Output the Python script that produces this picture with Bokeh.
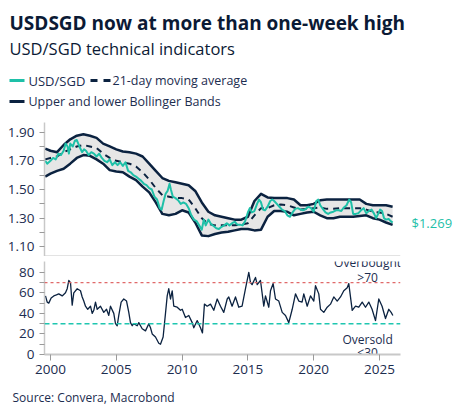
from bokeh.plotting import figure
from bokeh.layouts import column, row
from bokeh.models import Range1d, FixedTicker, Span, LinearAxis, NumeralTickFormatter
from bokeh.core.properties import value
from bokeh.embed import file_html
from bokeh.resources import INLINE

FONT = "Open Sans"
NAVY = "#0b2240"
TEAL = "#1ec0a8"
FILL = "#e6e6e6"
AXIS = "#c8c8c8"
TEXT = "#1c2d4f"

# ---- USD/SGD spot (decimal years) ----
usd_x = [1999.6, 1999.75, 2000.0, 2000.2, 2000.4, 2000.6, 2000.8, 2001.0, 2001.15, 2001.3,
         2001.4, 2001.5, 2001.7, 2001.85, 2002.0, 2002.2, 2002.4, 2002.55, 2002.7, 2002.9,
         2003.1, 2003.3, 2003.5, 2003.7, 2003.9, 2004.1, 2004.3, 2004.5, 2004.7, 2004.9,
         2005.1, 2005.3, 2005.5, 2005.7, 2005.9, 2006.1, 2006.3, 2006.5, 2006.7, 2006.9,
         2007.1, 2007.3, 2007.5, 2007.7, 2007.9, 2008.1, 2008.3, 2008.45, 2008.6, 2008.75,
         2008.9, 2009.05, 2009.15, 2009.3, 2009.5, 2009.7, 2009.9, 2010.1, 2010.3, 2010.5,
         2010.7, 2010.9, 2011.1, 2011.3, 2011.5, 2011.65, 2011.8, 2012.0, 2012.2, 2012.4,
         2012.6, 2012.8, 2013.0, 2013.2, 2013.4, 2013.6, 2013.8, 2014.0, 2014.2, 2014.4,
         2014.6, 2014.8, 2015.0, 2015.15, 2015.3, 2015.5, 2015.7, 2015.85, 2016.0, 2016.15,
         2016.3, 2016.5, 2016.7, 2016.85, 2017.0, 2017.2, 2017.4, 2017.6, 2017.8, 2018.0,
         2018.2, 2018.4, 2018.6, 2018.8, 2019.0, 2019.2, 2019.4, 2019.6, 2019.8, 2020.0,
         2020.2, 2020.35, 2020.5, 2020.7, 2020.9, 2021.1, 2021.3, 2021.5, 2021.7, 2021.9,
         2022.1, 2022.3, 2022.5, 2022.7, 2022.85, 2023.0, 2023.2, 2023.4, 2023.6, 2023.8,
         2024.0, 2024.2, 2024.4, 2024.6, 2024.75, 2024.9, 2025.05, 2025.2, 2025.35, 2025.5,
         2025.7, 2025.85, 2026.0]
usd_val = [1.70, 1.68, 1.70, 1.72, 1.71, 1.75, 1.74, 1.77, 1.82, 1.80,
           1.75, 1.82, 1.80, 1.84, 1.845, 1.80, 1.76, 1.78, 1.77, 1.74,
           1.76, 1.75, 1.73, 1.75, 1.72, 1.70, 1.69, 1.71, 1.67, 1.69,
           1.67, 1.69, 1.665, 1.69, 1.63, 1.62, 1.60, 1.59, 1.575, 1.56,
           1.54, 1.53, 1.51, 1.50, 1.45, 1.43, 1.37, 1.36, 1.42, 1.47,
           1.49, 1.54, 1.50, 1.45, 1.44, 1.425, 1.40, 1.41, 1.40, 1.37,
           1.32, 1.29, 1.28, 1.25, 1.22, 1.29, 1.25, 1.29, 1.26, 1.245,
           1.23, 1.225, 1.24, 1.25, 1.265, 1.25, 1.265, 1.275, 1.255, 1.255,
           1.25, 1.28, 1.34, 1.37, 1.34, 1.35, 1.40, 1.43, 1.41, 1.36,
           1.355, 1.38, 1.42, 1.43, 1.42, 1.40, 1.38, 1.36, 1.35, 1.32,
           1.31, 1.34, 1.365, 1.37, 1.36, 1.355, 1.365, 1.38, 1.37, 1.345,
           1.42, 1.43, 1.39, 1.365, 1.34, 1.33, 1.34, 1.345, 1.355, 1.355,
           1.35, 1.375, 1.39, 1.43, 1.41, 1.33, 1.33, 1.335, 1.355, 1.37,
           1.335, 1.35, 1.36, 1.33, 1.30, 1.33, 1.36, 1.35, 1.30, 1.29,
           1.295, 1.28, 1.269]

# ---- 21-day moving average and Bollinger Bands ----
band_x = [1999.6, 2000.0, 2000.5, 2001.0, 2001.5, 2002.0, 2002.5, 2003.0, 2003.5, 2004.0,
          2004.5, 2005.0, 2005.5, 2006.0, 2006.5, 2007.0, 2007.5, 2008.0, 2008.5, 2009.0,
          2009.5, 2010.0, 2010.5, 2011.0, 2011.5, 2012.0, 2012.5, 2013.0, 2013.5, 2014.0,
          2014.5, 2015.0, 2015.5, 2016.0, 2016.5, 2017.0, 2017.5, 2018.0, 2018.5, 2019.0,
          2019.5, 2020.0, 2020.5, 2021.0, 2021.5, 2022.0, 2022.5, 2023.0, 2023.5, 2024.0,
          2024.5, 2025.0, 2025.5, 2026.0]
band_upper = [1.785, 1.77, 1.76, 1.81, 1.85, 1.875, 1.885, 1.875, 1.86, 1.82,
              1.80, 1.78, 1.765, 1.76, 1.75, 1.73, 1.68, 1.63, 1.58, 1.56,
              1.55, 1.54, 1.53, 1.49, 1.41, 1.345, 1.32, 1.31, 1.30, 1.29,
              1.29, 1.31, 1.42, 1.47, 1.445, 1.44, 1.44, 1.44, 1.43, 1.39,
              1.39, 1.40, 1.425, 1.43, 1.43, 1.43, 1.43, 1.43, 1.43, 1.40,
              1.39, 1.39, 1.39, 1.38]
band_lower = [1.59, 1.61, 1.63, 1.645, 1.68, 1.72, 1.74, 1.735, 1.71, 1.68,
              1.635, 1.625, 1.62, 1.59, 1.565, 1.52, 1.48, 1.41, 1.33, 1.32,
              1.33, 1.355, 1.34, 1.27, 1.18, 1.175, 1.19, 1.20, 1.205, 1.215,
              1.225, 1.225, 1.215, 1.22, 1.31, 1.35, 1.35, 1.345, 1.32, 1.33,
              1.34, 1.345, 1.32, 1.30, 1.30, 1.31, 1.31, 1.31, 1.315, 1.32,
              1.30, 1.29, 1.27, 1.253]
band_ma = [1.71, 1.72, 1.73, 1.76, 1.78, 1.80, 1.81, 1.80, 1.79, 1.75,
           1.72, 1.70, 1.69, 1.68, 1.66, 1.62, 1.57, 1.51, 1.46, 1.45,
           1.44, 1.44, 1.43, 1.37, 1.30, 1.26, 1.25, 1.25, 1.25, 1.25,
           1.255, 1.265, 1.32, 1.37, 1.37, 1.39, 1.395, 1.39, 1.375, 1.36,
           1.365, 1.37, 1.375, 1.365, 1.365, 1.37, 1.37, 1.37, 1.37, 1.36,
           1.345, 1.34, 1.33, 1.31]

# ---- RSI ----
rsi_x = [1999.62, 1999.75, 1999.87, 2000.05, 2000.25, 2000.45, 2000.63, 2000.89, 2001.14, 2001.27,
         2001.39, 2001.52, 2001.65, 2001.77, 2002.03, 2002.28, 2002.41, 2002.53, 2002.66, 2002.83,
         2003.04, 2003.17, 2003.29, 2003.42, 2003.55, 2003.80, 2004.05, 2004.26, 2004.43, 2004.56,
         2004.81, 2004.94, 2005.07, 2005.19, 2005.37, 2005.57, 2005.78, 2005.95, 2006.08, 2006.21,
         2006.33, 2006.59, 2006.71, 2006.97, 2007.22, 2007.47, 2007.60, 2007.73, 2007.98, 2008.23,
         2008.36, 2008.56, 2008.74, 2008.87, 2008.99, 2009.12, 2009.25, 2009.37, 2009.63, 2009.88,
         2010.01, 2010.26, 2010.51, 2010.77, 2010.89, 2011.15, 2011.40, 2011.55, 2011.70, 2011.91,
         2012.16, 2012.41, 2012.67, 2012.92, 2013.17, 2013.43, 2013.55, 2013.80, 2014.06, 2014.31,
         2014.56, 2014.82, 2015.07, 2015.20, 2015.32, 2015.58, 2015.71, 2015.96, 2016.21, 2016.34,
         2016.59, 2016.72, 2016.92, 2017.10, 2017.35, 2017.61, 2017.86, 2018.11, 2018.37, 2018.62,
         2018.87, 2019.12, 2019.25, 2019.51, 2019.76, 2020.01, 2020.14, 2020.39, 2020.52, 2020.77,
         2021.03, 2021.28, 2021.53, 2021.79, 2022.04, 2022.29, 2022.55, 2022.67, 2022.93, 2023.18,
         2023.43, 2023.69, 2023.94, 2024.19, 2024.44, 2024.70, 2024.95, 2025.20, 2025.46, 2025.71,
         2025.89, 2026.02]
rsi_val = [57, 51, 50, 55, 57, 58, 59, 57, 60, 64,
           72, 70, 48, 60, 64, 62, 56, 52, 47, 44,
           47, 40, 43, 51, 44, 47, 41, 44, 38, 47,
           40, 30, 28, 38, 51, 54, 52, 41, 31, 28,
           30, 28, 31, 25, 23, 30, 26, 20, 17, 11,
           10, 17, 40, 57, 64, 54, 62, 47, 46, 43,
           44, 36, 38, 31, 26, 33, 26, 21, 49, 47,
           49, 43, 54, 47, 41, 54, 56, 47, 56, 46,
           47, 64, 80, 70, 68, 75, 68, 72, 47, 57,
           46, 62, 69, 54, 52, 41, 38, 31, 44, 59,
           52, 51, 59, 47, 57, 52, 67, 59, 44, 41,
           46, 49, 56, 52, 56, 62, 65, 69, 43, 47,
           46, 51, 46, 51, 44, 33, 54, 47, 35, 44,
           41, 38]

OVERBOUGHT = 70
OVERSOLD = 30

year_ticks = [2000, 2005, 2010, 2015, 2020, 2025]
price_ticks = [1.10, 1.30, 1.50, 1.70, 1.90]
price_minor = [1.20, 1.40, 1.60, 1.80]
rsi_ticks = [0, 20, 40, 60, 80]
rsi_minor = [10, 30, 50, 70]

W = 455
x_range = Range1d(1999.545, 2026.6)


def blank(height):
    p = figure(width=W, height=height, x_range=Range1d(0, W), y_range=Range1d(height, 0),
               min_border=0, toolbar_location=None, output_backend="svg")
    p.axis.visible = False
    p.grid.visible = False
    p.outline_line_color = None
    return p


def style_yaxis(p, ticks, minor, fmt):
    ax = p.yaxis[0]
    ax.ticker = FixedTicker(ticks=ticks, minor_ticks=minor)
    ax.formatter = NumeralTickFormatter(format=fmt)
    ax.axis_line_color = AXIS
    ax.axis_line_width = 1.5
    ax.major_tick_line_color = "#9a9a9a"
    ax.minor_tick_line_color = "#9a9a9a"
    ax.major_tick_in = 0
    ax.minor_tick_in = 0
    ax.major_tick_out = 5
    ax.minor_tick_out = 5
    ax.major_label_standoff = 5
    ax.major_label_text_font = FONT
    ax.major_label_text_font_size = "13.5px"
    ax.major_label_text_color = TEXT


# ---- header: title, subtitle and legend ----
head = blank(112)
head.text(x=[9], y=[22], text=["USDSGD now at more than one-week high"],
          text_font=value(FONT), text_font_style="bold", text_font_size="19px",
          text_color="#0b1a35", text_baseline="middle")
head.text(x=[9], y=[48], text=["USD/SGD technical indicators"],
          text_font=value(FONT), text_font_size="16.5px", text_color="#0b1a35",
          text_baseline="middle")
head.line(x=[9, 24], y=[80, 80], line_color=TEAL, line_width=3)
head.text(x=[28], y=[80], text=["USD/SGD"], text_font=value(FONT), text_font_size="13px",
          text_color=TEXT, text_baseline="middle")
head.line(x=[90, 110], y=[80, 80], line_color=NAVY, line_width=3, line_dash="7 6")
head.text(x=[112], y=[80], text=["21-day moving average"], text_font=value(FONT),
          text_font_size="12.5px", text_color=TEXT, text_baseline="middle")
head.line(x=[9, 24], y=[101, 101], line_color=NAVY, line_width=3)
head.text(x=[28], y=[101], text=["Upper and lower Bollinger Bands"], text_font=value(FONT),
          text_font_size="12.5px", text_color=TEXT, text_baseline="middle")

# ---- price panel ----
price_lo, price_hi = 1.033, 1.967
top = figure(frame_width=356, frame_height=134, x_range=x_range,
             y_range=Range1d(price_lo, price_hi),
             min_border_left=44, min_border_right=55, min_border_top=10, min_border_bottom=0,
             toolbar_location=None, output_backend="svg")
top.xaxis.visible = False
top.grid.visible = False
top.outline_line_color = None
style_yaxis(top, price_ticks, price_minor, "0.00")

top.varea(x=band_x, y1=band_lower, y2=band_upper, fill_color=FILL)
top.line(band_x, band_upper, line_color=NAVY, line_width=2.5, line_join="round")
top.line(band_x, band_lower, line_color=NAVY, line_width=2.5, line_join="round")
top.line(band_x, band_ma, line_color=NAVY, line_width=2, line_dash="6 5")
top.line(usd_x, usd_val, line_color=TEAL, line_width=2, line_join="round")
top.add_layout(Span(location=price_lo, dimension="width", line_color=AXIS, line_width=2))

# latest value, printed at its own level on the right-hand side
last_axis = LinearAxis(ticker=FixedTicker(ticks=[usd_val[-1]], minor_ticks=[]),
                       formatter=NumeralTickFormatter(format="$0.000"))
last_axis.axis_line_color = None
last_axis.major_tick_line_color = None
last_axis.minor_tick_line_color = None
last_axis.major_tick_out = 0
last_axis.major_tick_in = 0
last_axis.minor_tick_out = 0
last_axis.minor_tick_in = 0
last_axis.major_label_standoff = 11
last_axis.major_label_text_font = FONT
last_axis.major_label_text_font_size = "13px"
last_axis.major_label_text_color = TEAL
top.add_layout(last_axis, "right")

# ---- RSI panel ----
bot = figure(frame_width=356, frame_height=93, x_range=x_range, y_range=Range1d(0, 90.5),
             min_border_left=44, min_border_right=55, min_border_top=5, min_border_bottom=30,
             toolbar_location=None, output_backend="svg")
bot.grid.visible = False
bot.outline_line_color = None
style_yaxis(bot, rsi_ticks, rsi_minor, "0")
xa = bot.xaxis[0]
xa.ticker = FixedTicker(ticks=year_ticks)
xa.axis_line_color = AXIS
xa.axis_line_width = 2
xa.major_tick_line_color = "#9a9a9a"
xa.major_tick_in = 0
xa.major_tick_out = 6
xa.minor_tick_line_color = None
xa.major_label_standoff = 4
xa.major_label_text_font = FONT
xa.major_label_text_font_size = "13.5px"
xa.major_label_text_color = TEXT

bot.add_layout(Span(location=OVERBOUGHT, dimension="width", line_color="#e06a6a",
                    line_width=1.3, line_dash="3 3"))
bot.add_layout(Span(location=OVERSOLD, dimension="width", line_color="#1fc6b0",
                    line_width=1.5, line_dash="5 3"))
bot.line(rsi_x, rsi_val, line_color=NAVY, line_width=1.3, line_join="round")
bot.text(x=[2024.1, 2024.1], y=[OVERBOUGHT + 19.5, OVERBOUGHT + 5], text=["Overbought", ">70"],
         text_font=value(FONT), text_font_size="12px", text_color=TEXT,
         text_align="center", text_baseline="middle")
bot.text(x=[2024.1, 2024.1], y=[OVERSOLD - 15.5, OVERSOLD - 28], text=["Oversold", "<30"],
         text_font=value(FONT), text_font_size="12px", text_color=TEXT,
         text_align="center", text_baseline="middle")

# ---- footer ----
foot = blank(32)
foot.text(x=[12], y=[13], text=["Source: Convera, Macrobond"], text_font=value(FONT),
          text_font_size="12px", text_color=TEXT, text_baseline="middle")

layout = column(row(head), column(top, bot, spacing=0), row(foot), spacing=0)
open("out.html", "w").write(file_html(layout, INLINE))
